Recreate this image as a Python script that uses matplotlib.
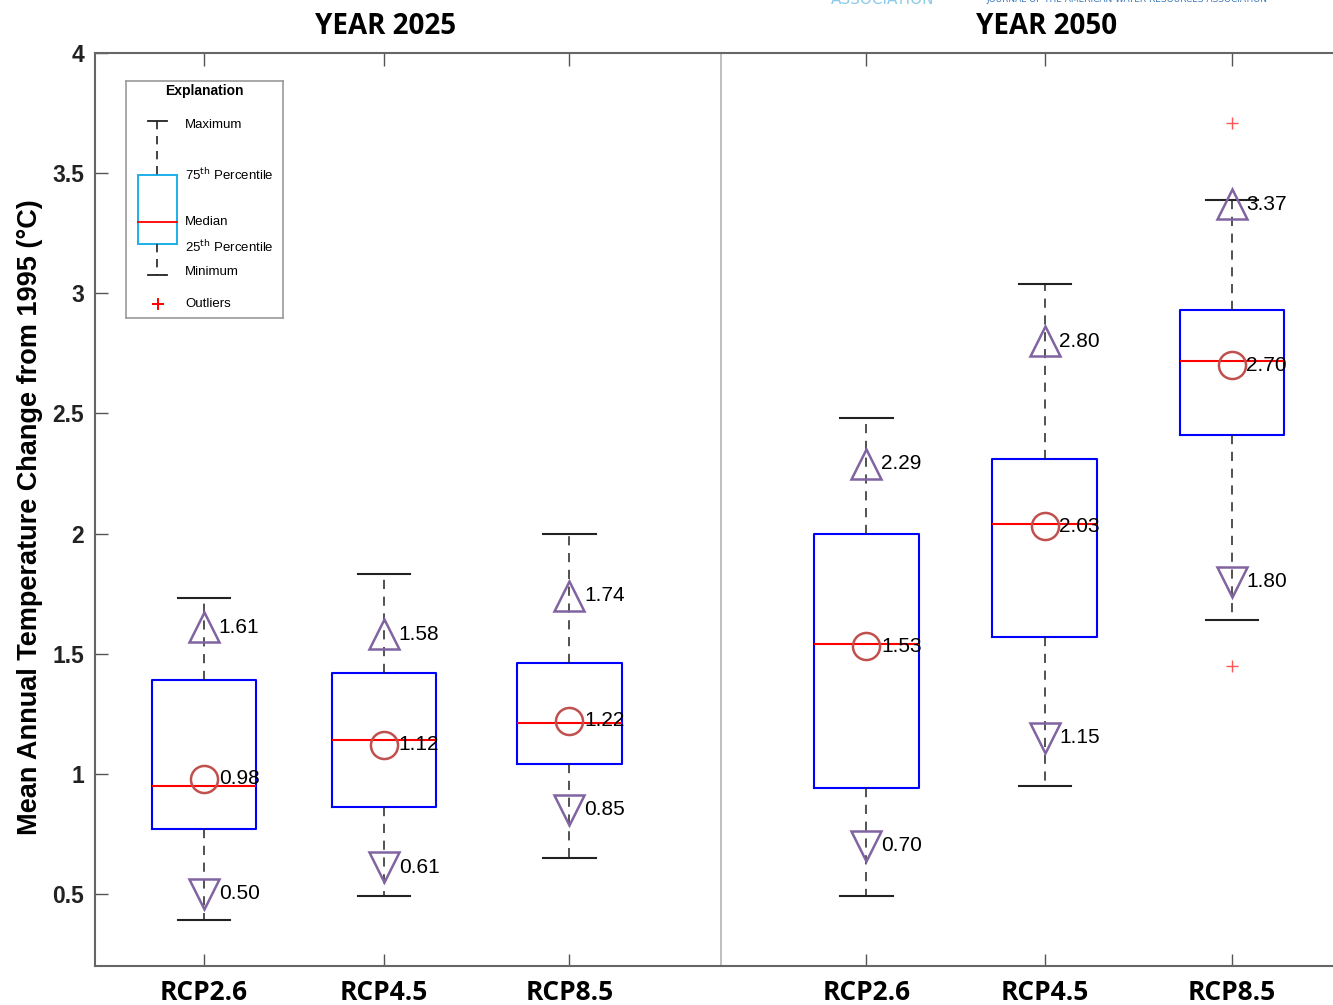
import numpy as np
import matplotlib
matplotlib.use('Agg')
import matplotlib.pyplot as plt

# box statistics (deg C change from 1995)
scenarios = ['RCP2.6', 'RCP4.5', 'RCP8.5', 'RCP2.6', 'RCP4.5', 'RCP8.5']
years = ['YEAR 2025', 'YEAR 2050']
whisk_hi = [1.73, 1.83, 2.00, 2.48, 3.04, 3.39]
q3 = [1.39, 1.42, 1.46, 2.00, 2.31, 2.93]
median = [0.95, 1.14, 1.21, 1.54, 2.04, 2.72]
q1 = [0.77, 0.86, 1.04, 0.94, 1.57, 2.41]
whisk_lo = [0.39, 0.49, 0.65, 0.49, 0.95, 1.64]
outliers = [[], [], [], [], [], [3.71, 1.45]]
mean_val = [0.98, 1.12, 1.22, 1.53, 2.03, 2.70]
upper_val = [1.61, 1.58, 1.74, 2.29, 2.80, 3.37]
lower_val = [0.50, 0.61, 0.85, 0.70, 1.15, 1.80]

# layout
positions = [1, 2, 3.03, 4.68, 5.67, 6.71]
divider = 3.87
year_centers = [2.01, 5.68]

fig = plt.figure(figsize=(13.33, 10.05), dpi=100)
ax = fig.add_axes([95 / 1333, 1 - 966 / 1005, (1333 - 95) / 1333, (966 - 53) / 1005])

stats = []
for i in range(len(scenarios)):
    stats.append(dict(med=median[i], q1=q1[i], q3=q3[i], whislo=whisk_lo[i],
                      whishi=whisk_hi[i], fliers=outliers[i]))

ax.bxp(stats, positions=positions, widths=0.58, capwidths=0.29, showfliers=True,
       boxprops=dict(color='#0000ff', linewidth=1.5),
       medianprops=dict(color='#ff0000', linewidth=1.5),
       whiskerprops=dict(color='#222222', linewidth=1.1, linestyle=(0, (6, 5))),
       capprops=dict(color='#222222', linewidth=1.5),
       flierprops=dict(marker='+', markeredgecolor='#ff5555', markersize=9,
                       markeredgewidth=1.0, linestyle='none'))

ax.plot(positions, mean_val, 'o', ms=19.5, mfc='none', mec='#c0504d', mew=1.8, zorder=4)
ax.plot(positions, upper_val, '^', ms=22, mfc='none', mec='#8064a2', mew=1.8, zorder=4)
ax.plot(positions, lower_val, 'v', ms=22, mfc='none', mec='#8064a2', mew=1.8, zorder=4)

for vals in (mean_val, upper_val, lower_val):
    for x, v in zip(positions, vals):
        ax.annotate('%.2f' % v, (x, v), xytext=(10.5, 0), textcoords='offset points',
                    va='center', ha='left', fontsize=15, family='Liberation Sans',
                    color='black', zorder=5)

ax.axvline(divider, color='#b5b5b5', linewidth=1.2, zorder=1)

ax.set_xlim(0.394, 7.272)
ax.set_ylim(0.2, 4.0)
ax.set_yticks(np.arange(0.5, 4.01, 0.5))
ax.set_yticklabels(['0.5', '1', '1.5', '2', '2.5', '3', '3.5', '4'])
ax.set_xticks(positions)
ax.set_xticklabels(scenarios)
ax.tick_params(axis='y', direction='in', length=9, width=1.0, color='#555555',
               labelsize=16.5, labelcolor='#222222', pad=8)
ax.tick_params(axis='x', direction='in', length=9, width=1.0, color='#555555',
               top=True, labelsize=19, pad=9)
for lab in ax.get_yticklabels():
    lab.set_fontfamily('Liberation Sans')
    lab.set_fontweight('bold')
for lab in ax.get_xticklabels():
    lab.set_fontfamily('Open Sans')
    lab.set_fontweight('bold')
for s in ['left', 'bottom', 'top']:
    ax.spines[s].set_color('#666666')
    ax.spines[s].set_linewidth(1.5)
ax.spines['right'].set_visible(False)

ax.set_ylabel('Mean Annual Temperature Change from 1995 (\u00b0C)', fontsize=19.5,
              fontweight='bold', family='Liberation Sans')
ax.yaxis.set_label_coords(-0.042, 0.492)

for xc, yr in zip(year_centers, years):
    ax.text(xc, 1.0 + 12 / 913, yr, transform=ax.get_xaxis_transform(), ha='center',
            va='bottom', fontsize=20, fontweight='bold', family='Open Sans')

# clipped journal banner at the very top
fig.text(1127 / 1333, 1.0 + 1 / 1005, 'JOURNAL OF THE AMERICAN WATER RESOURCES ASSOCIATION',
         ha='center', va='center', fontsize=6.5, color='#3a78b8', family='DejaVu Sans')
fig.text(883 / 1333, 1.0 + 1 / 1005, 'ASSOCIATION', ha='center', va='center',
         fontsize=11, color='#8ccbe8', family='DejaVu Sans')

# explanation key, drawn in pixel units of the source figure
lg = fig.add_axes([126 / 1333, 1 - 318 / 1005, 157 / 1333, 237 / 1005])
lg.set_xlim(126, 283)
lg.set_ylim(318, 81)
lg.set_xticks([])
lg.set_yticks([])
for s in lg.spines.values():
    s.set_color('#999999')
    s.set_linewidth(1.2)
lg.text(204, 91, 'Explanation', ha='center', va='center', fontsize=10,
        fontweight='bold', family='Liberation Sans')
lg.plot([157, 157], [121, 175], color='#222222', lw=1.2, ls=(0, (5, 4)))
lg.plot([157, 157], [244, 275], color='#222222', lw=1.2, ls=(0, (5, 4)))
lg.plot([148, 167], [121, 121], color='#222222', lw=1.3)
lg.plot([148, 167], [275, 275], color='#222222', lw=1.3)
lg.add_patch(plt.Rectangle((138, 175), 39, 69, fill=False, ec='#1ab0e8', lw=1.4))
lg.plot([138, 177], [222, 222], color='#ff0000', lw=1.3)
lg.plot([158], [304], '+', color='#ff0000', ms=8, mew=1.4)
key_labels = ['Maximum', '75$^{\\mathrm{th}}$ Percentile', 'Median',
              '25$^{\\mathrm{th}}$ Percentile', 'Minimum', 'Outliers']
key_y = [125, 175, 222, 247, 272, 304]
for t, y in zip(key_labels, key_y):
    lg.text(185, y, t, ha='left', va='center', fontsize=9.5, family='Liberation Sans')

fig.savefig('out.png', dpi=100, facecolor='white')
